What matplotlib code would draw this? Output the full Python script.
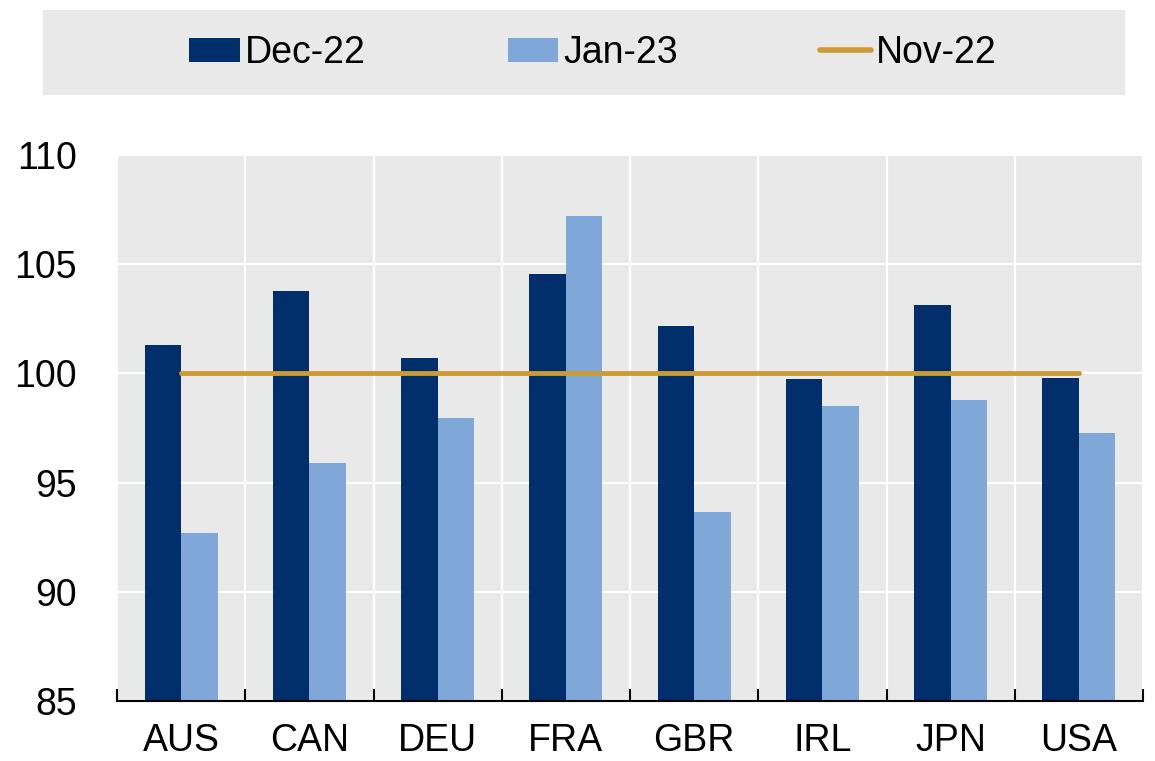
import numpy as np
import matplotlib.pyplot as plt
from matplotlib.patches import Rectangle, Patch
from matplotlib.lines import Line2D

countries = ['AUS', 'CAN', 'DEU', 'FRA', 'GBR', 'IRL', 'JPN', 'USA']
dec22 = [101.3, 103.75, 100.7, 104.55, 102.15, 99.75, 103.15, 99.8]
jan23 = [92.7, 95.9, 97.95, 107.2, 93.65, 98.5, 98.8, 97.25]
nov22 = [100, 100, 100, 100, 100, 100, 100, 100]

dark = '#002F6C'
light = '#7FA8D8'
gold = '#CC9B36'
bg = '#E9E9E9'

plt.rcParams['font.family'] = ['Liberation Sans', 'DejaVu Sans']
fs = 27

fig = plt.figure(figsize=(11.55, 7.61), dpi=100)
ax = fig.add_axes([117/1155, 1-701/761, 1026/1155, 546/761])
ax.set_facecolor(bg)

x = np.arange(len(countries))
w = 0.285
ax.bar(x - w/2, dec22, w, color=dark, zorder=3)
ax.bar(x + w/2, jan23, w, color=light, zorder=3)
ax.plot(x, nov22, color=gold, lw=3.5, solid_capstyle='round', zorder=4)

ax.set_xlim(-0.5, len(countries) - 0.5)
ax.set_ylim(85, 110)
ax.set_yticks(np.arange(85, 111, 5))
ax.set_xticks(x)
ax.set_xticklabels(countries)
ax.set_xticks(np.arange(-0.5, len(countries), 1), minor=True)

ax.grid(axis='y', color='white', lw=1.6, zorder=1)
ax.grid(axis='x', which='minor', color='white', lw=1.6, zorder=1)
ax.grid(axis='x', which='major', visible=False)
ax.set_axisbelow(True)

for s in ['top', 'right', 'left']:
    ax.spines[s].set_visible(False)
ax.spines['bottom'].set_linewidth(1.5)
ax.spines['bottom'].set_zorder(5)

ax.tick_params(axis='y', length=0, pad=29, labelsize=fs)
ax.tick_params(axis='x', which='major', length=0, pad=16, labelsize=fs)
ax.tick_params(axis='x', which='minor', direction='in', length=9, width=1.5)

# gray legend band
fig.patches.append(Rectangle((43/1155, 1-95/761), 1082/1155, 85/761,
                             transform=fig.transFigure, facecolor=bg, edgecolor='none', zorder=0))
handles = [Patch(facecolor=dark), Patch(facecolor=light),
           Line2D([0], [0], color=gold, lw=4, solid_capstyle='round')]
fig.legend(handles, ['Dec-22', 'Jan-23', 'Nov-22'], ncol=3, loc='center',
           bbox_to_anchor=(593/1155, 1-53/761), frameon=False, fontsize=fs,
           handlelength=1.35, handleheight=0.62, handletextpad=0.15, columnspacing=3.77)

fig.savefig('out.png', dpi=100)
